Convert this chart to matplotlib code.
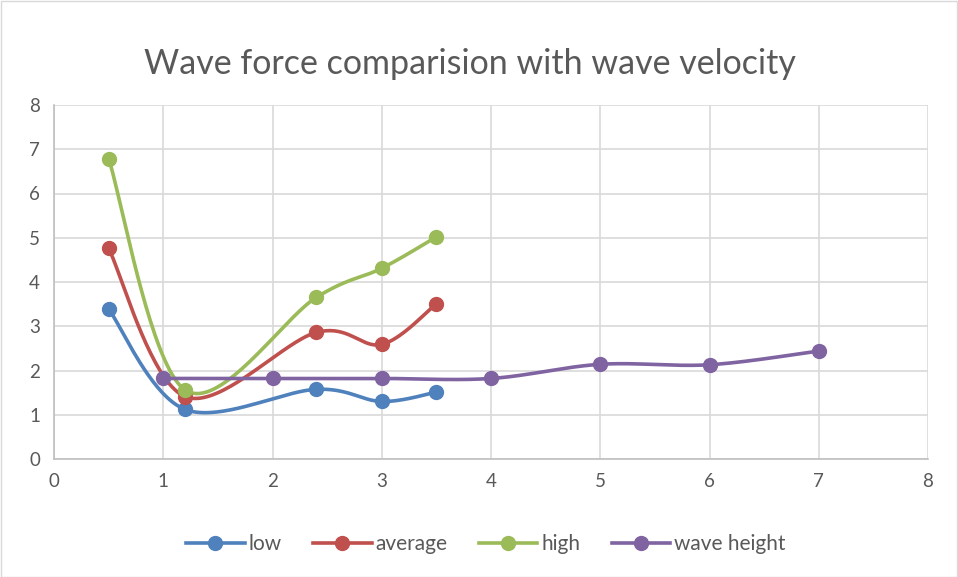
import numpy as np
import matplotlib
matplotlib.use('Agg')
import matplotlib.pyplot as plt
from matplotlib.lines import Line2D
from matplotlib.patches import Rectangle

plt.rcParams['font.family'] = ['Lato', 'DejaVu Sans']

# data
x_force = [0.5, 1.2, 2.4, 3.0, 3.5]
low = [3.39, 1.12, 1.575, 1.30, 1.51]
average = [4.76, 1.41, 2.86, 2.59, 3.51]
high = [6.79, 1.56, 3.65, 4.31, 5.02]

x_wave = [1, 2, 3, 4, 5, 6, 7]
wave_height = [1.82, 1.82, 1.82, 1.82, 2.14, 2.13, 2.44]

series = [
    ('low', x_force, low, '#4F81BD'),
    ('average', x_force, average, '#C0504D'),
    ('high', x_force, high, '#9BBB59'),
    ('wave height', x_wave, wave_height, '#8064A2'),
]


def smooth(xs, ys, n=40):
    # Excel-like smoothed line: bezier through points, catmull-rom tangents
    p = np.column_stack([xs, ys]).astype(float)
    out = []
    for i in range(len(p) - 1):
        p0 = p[i - 1] if i > 0 else p[i]
        p1 = p[i]
        p2 = p[i + 1]
        p3 = p[i + 2] if i + 2 < len(p) else p[i + 1]
        c1 = p1 + (p2 - p0) / 6.0
        c2 = p2 - (p3 - p1) / 6.0
        t = np.linspace(0, 1, n)[:, None]
        seg = ((1 - t) ** 3) * p1 + 3 * ((1 - t) ** 2) * t * c1 + 3 * (1 - t) * t ** 2 * c2 + t ** 3 * p2
        out.append(seg if i == 0 else seg[1:])
    pts = np.vstack(out)
    return pts[:, 0], pts[:, 1]


fig = plt.figure(figsize=(9.58, 5.77), dpi=100)
ax = fig.add_axes([54 / 958, 1 - 459 / 577, 874 / 958, 354 / 577])

txt = '#595959'
grid = '#D9D9D9'

for name, xs, ys, col in series:
    sx, sy = smooth(xs, ys)
    ax.plot(sx, sy, color=col, lw=2.6, solid_capstyle='round', zorder=3)
    ax.plot(xs, ys, 'o', color=col, ms=10, zorder=4)

ax.set_xlim(0, 8)
ax.set_ylim(0, 8)
ax.set_xticks(range(0, 9))
ax.set_yticks(range(0, 9))
ax.grid(True, color=grid, lw=1.2)
ax.set_axisbelow(True)
for s in ['top', 'right']:
    ax.spines[s].set_visible(False)
for s in ['left', 'bottom']:
    ax.spines[s].set_color('#BFBFBF')
    ax.spines[s].set_linewidth(1.2)
ax.tick_params(length=0, labelsize=13.5, colors=txt, pad=10)

fig.text(470 / 958, 1 - 64 / 577, 'Wave force comparision with wave velocity',
         ha='center', va='center', fontsize=24.5, color=txt)

handles = [Line2D([0], [0], color=c, lw=2.6, marker='o', ms=10) for _, _, _, c in series]
fig.legend(handles, [s[0] for s in series], loc='center', bbox_to_anchor=(486 / 958, 1 - 544 / 577),
           ncol=4, frameon=False, fontsize=15, labelcolor=txt, handlelength=2.8,
           handletextpad=0.2, columnspacing=1.5)

fig.patches.append(Rectangle((0.5 / 958, 0.5 / 577), 1 - 1.5 / 958, 1 - 1.5 / 577,
                             transform=fig.transFigure, fill=False, ec='#D9D9D9', lw=1))

fig.savefig('out.png', dpi=100)
